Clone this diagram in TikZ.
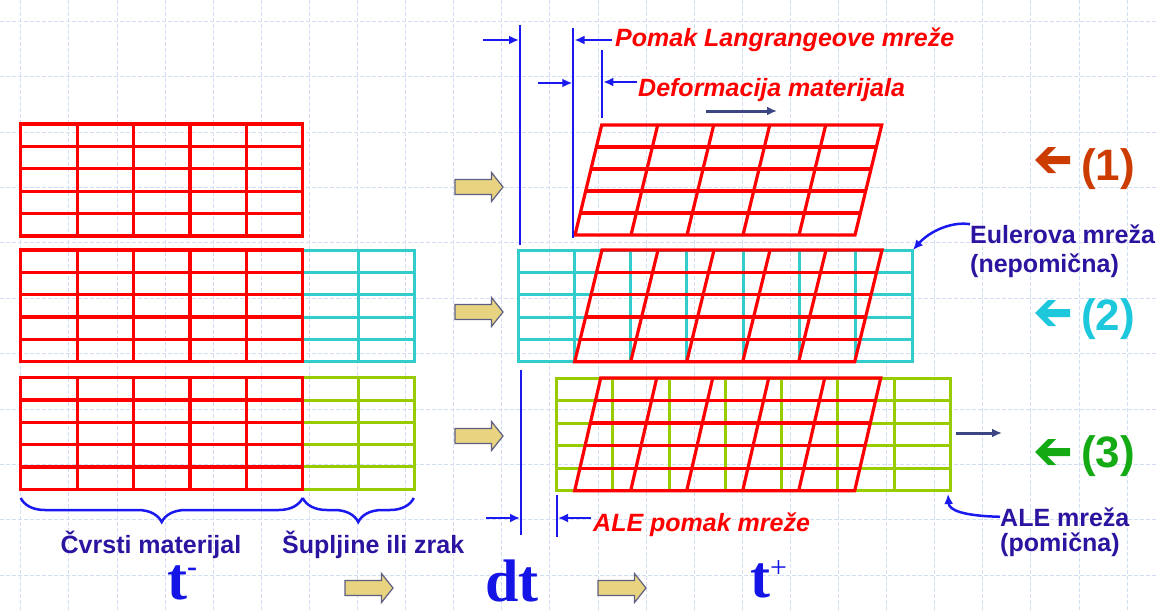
\documentclass[tikz,border=0pt]{standalone}
\usepackage{fontspec}
\setmainfont{Liberation Sans}
\newfontfamily\tnr{Liberation Serif}
\usetikzlibrary{arrows.meta,decorations.pathreplacing}

\definecolor{meshred}{RGB}{255,0,0}
\definecolor{meshcyan}{RGB}{51,204,204}
\definecolor{meshgreen}{RGB}{153,204,0}
\definecolor{inktext}{RGB}{45,20,160}
\definecolor{dimblue}{RGB}{25,25,240}
\definecolor{navyarrow}{RGB}{60,70,130}
\definecolor{bgrid}{RGB}{210,222,244}
\definecolor{yfill}{RGB}{232,212,128}
\definecolor{yedge}{RGB}{95,95,130}
\definecolor{labone}{RGB}{204,60,0}
\definecolor{labtwo}{RGB}{30,200,220}
\definecolor{labthree}{RGB}{20,170,20}
\definecolor{tblue}{RGB}{20,20,230}

\newcommand{\rectmesh}[7]{%
  \foreach \k in {1,...,#6}{\draw[#1] ({#2+(#4-#2)*\k/#6},#3) -- ({#2+(#4-#2)*\k/#6},#5);}
  \foreach \k in {1,...,#7}{\draw[#1] (#2,{#3+(#5-#3)*\k/#7}) -- (#4,{#3+(#5-#3)*\k/#7});}
  \draw[#1] (#2,#3) rectangle (#4,#5);}
\newcommand{\slantmesh}[5]{%
  \foreach \k in {1,...,4}{\draw[#1] ({#2+56*\k},#3) -- ({#4+56*\k},#5);}
  \foreach \k in {1,...,4}{\draw[#1] ({#2+(#4-#2)*\k/5},{#3+(#5-#3)*\k/5}) -- ({#2+(#4-#2)*\k/5+280},{#3+(#5-#3)*\k/5});}
  \draw[#1] (#2,#3) -- ({#2+280},#3) -- ({#4+280},#5) -- (#4,#5) -- cycle;}
\newcommand{\yarrow}[2]{\draw[yarrowstyle] (#1,#2) ++(0,-7.5) -- ++(36.5,0) -- ++(0,-7) -- ++(11.5,14.5) -- ++(-11.5,14.5) -- ++(0,-7) -- ++(-36.5,0) -- cycle;}
\newcommand{\labarrow}[3]{\fill[#3] (#1,#2) -- ++(13,-13) -- ++(8,0) -- ++(-9,9) -- ++(23,0) -- ++(0,8) -- ++(-23,0) -- ++(9,9) -- ++(-8,0) -- cycle;}

\tikzset{
  redmesh/.style={draw=meshred, line width=3.2pt, line join=miter},
  cyanmesh/.style={draw=meshcyan, line width=3pt, line join=miter},
  greenmesh/.style={draw=meshgreen, line width=3pt, line join=miter},
  yarrowstyle/.style={fill=yfill, draw=yedge, line width=1.2pt, line join=miter},
  dimline/.style={draw=dimblue, line width=2pt},
  dimarrow/.style={draw=dimblue, line width=2pt, -{Latex[length=10pt,width=9pt]}},
  navyarr/.style={draw=navyarrow, line width=3pt, -{Latex[length=10pt,width=9pt]}},
  bluecurve/.style={draw=dimblue, line width=2.5pt, -{Latex[length=10pt,width=9pt]}},
  redlabel/.style={text=meshred, font=\bfseries\itshape\fontsize{25}{30}\selectfont, inner sep=0pt, anchor=base west},
  inklabel/.style={text=inktext, font=\bfseries\fontsize{25}{30}\selectfont, inner sep=0pt},
  numlabel/.style={font=\bfseries\fontsize{44}{44}\selectfont, inner sep=0pt, anchor=base west},
  timelabel/.style={text=tblue, font=\tnr\bfseries\fontsize{60}{60}\selectfont, inner sep=0pt, anchor=base west},
  bgline/.style={draw=bgrid, line width=0.8pt, dash pattern=on 4pt off 2pt},
  bracestyle/.style={draw=dimblue, line width=2.5pt, decorate, decoration={brace, mirror, amplitude=24pt}}
}

\begin{document}
\begin{tikzpicture}[x=1pt,y=-1pt]
\useasboundingbox (0,0) rectangle (1156,610);
\fill[white] (0,0) rectangle (1156,610);
% background grid
\foreach \k in {0,...,23}{\draw[bgline] ({20.7+48.1*\k},0) -- ({20.7+48.1*\k},610);}
\foreach \k in {0,...,10}{\draw[bgline] (0,{21.2+55.4*\k}) -- (1156,{21.2+55.4*\k});}

% left meshes (t-)
\rectmesh{redmesh}{20.7}{124}{302.7}{236}{5}{5}
\rectmesh{cyanmesh}{302.7}{250}{414.3}{361.7}{2}{5}
\rectmesh{redmesh}{20.7}{250}{302.7}{361.7}{5}{5}
\rectmesh{greenmesh}{302.7}{377.7}{414.3}{489.3}{2}{5}
\rectmesh{redmesh}{20.7}{377.7}{302.7}{489.3}{5}{5}

% right meshes (t+)
\slantmesh{redmesh}{601.7}{125}{575}{235}
\rectmesh{cyanmesh}{518}{250}{912}{361.7}{7}{5}
\slantmesh{redmesh}{602}{250}{574.7}{361.7}
\rectmesh{greenmesh}{556.5}{378}{950.5}{490.7}{7}{5}
\slantmesh{redmesh}{600.7}{378}{574.7}{490.7}

% braces
\draw[bracestyle] (20.7,498) -- (302.7,498);
\draw[bracestyle] (302.7,498) -- (413.8,498);

% yellow arrows
\yarrow{455}{187}
\yarrow{455}{312}
\yarrow{455}{436}
\yarrow{345}{588}
\yarrow{598}{588}

% dimension lines
\draw[dimline] (520,25) -- (520,245);
\draw[dimline] (573.3,28) -- (573.3,238);
\draw[dimline] (602.3,50) -- (602.3,118);
\draw[dimline] (521,370) -- (521,535);
\draw[dimline] (557,495) -- (557,537);
\draw[dimarrow] (483,40) -- (519,40);
\draw[dimarrow] (612,40) -- (574.5,40);
\draw[dimarrow] (538,83) -- (572.3,83);
\draw[dimarrow] (637,82) -- (603.3,82);
\draw[dimarrow] (486,518) -- (520,518);
\draw[dimarrow] (591,518) -- (558,518);

% navy motion arrows
\draw[navyarr] (706,111) -- (777,111);
\draw[navyarr] (956,433) -- (1002,433);

% red labels
\node[redlabel] (pomak) at (615,47) {Pomak Langrangeove mreže};
\node[redlabel] (deform) at (638,96) {Deformacija materijala};
\node[redlabel] (alepomak) at (593,531) {ALE pomak mreže};

% mesh labels with curved pointers
\coordinate (cyancorner) at (913,250);
\coordinate (greencorner) at (948,494);
\node[inklabel, anchor=base west] (euler) at (970,243) {Eulerova mreža};
\node[inklabel, anchor=base west] (eulerb) at (970,272) {(nepomična)};
\node[inklabel, anchor=base west] (alem) at (1000,526) {ALE mreža};
\node[inklabel, anchor=base west] (alemb) at (1000,551) {(pomična)};
\draw[bluecurve] (euler.north west) .. controls +(-22,-3) and +(14,-16) .. (cyancorner);
\draw[bluecurve] (alem.west) .. controls +(-38,-1) and +(1,16) .. (greencorner);

% case labels
\labarrow{1035}{160}{labone}
\labarrow{1035}{313}{labtwo}
\labarrow{1035}{452}{labthree}
\node[numlabel, text=labone] (caseone) at (1081,180) {(1)};
\node[numlabel, text=labtwo] (casetwo) at (1081,330) {(2)};
\node[numlabel, text=labthree] (casethree) at (1081,467) {(3)};

% bottom texts
\node[inklabel, anchor=base] (solid) at (151,553) {Čvrsti materijal};
\node[inklabel, anchor=base west] (void) at (282,553) {Šupljine ili zrak};
\node[timelabel] (tminus) at (167,599) {t\raisebox{23pt}{\fontsize{30}{30}\selectfont -}};
\node[timelabel] (dt) at (485,601) {dt};
\node[timelabel] (tplus) at (750,597) {t\raisebox{20pt}{\mdseries\fontsize{30}{30}\selectfont +}};
\end{tikzpicture}
\end{document}
